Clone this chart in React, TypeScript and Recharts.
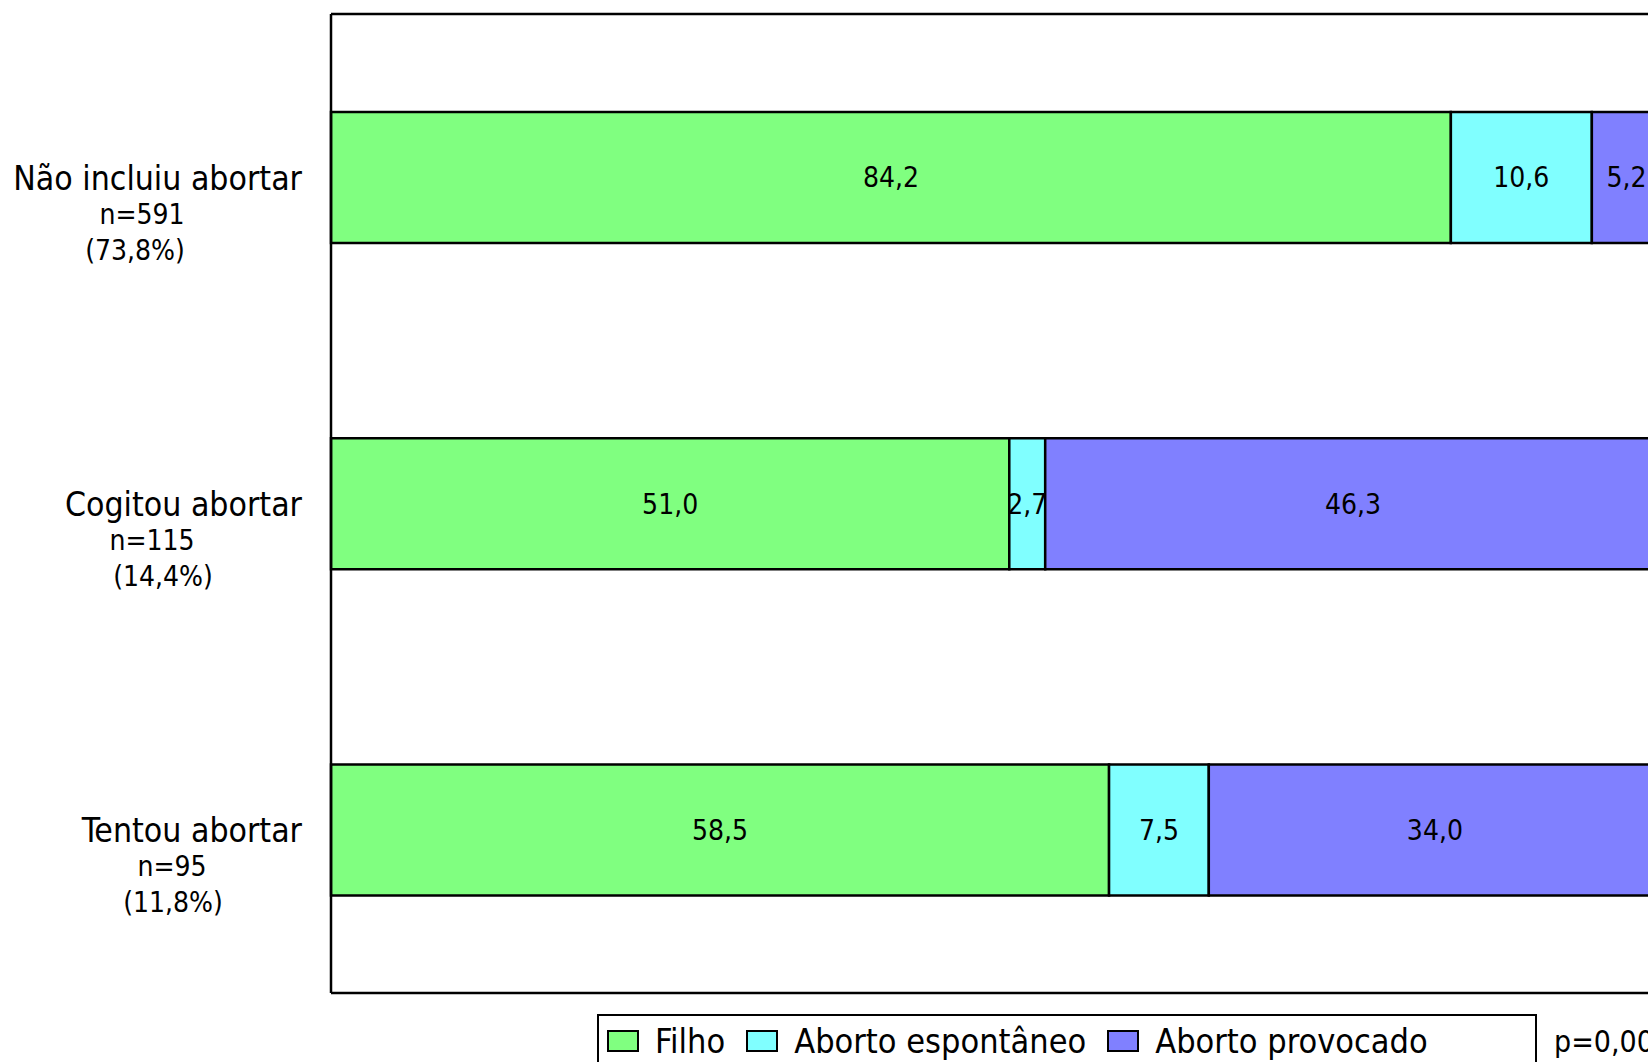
import React from 'react';
import { BarChart, Bar, XAxis, YAxis, Legend, LabelList } from 'recharts';

const categories = ['Não incluiu abortar', 'Cogitou abortar', 'Tentou abortar'];
const sampleSizes = ['n=591', 'n=115', 'n=95'];
const shares = ['(73,8%)', '(14,4%)', '(11,8%)'];
const seriesNames = ['Filho', 'Aborto espontâneo', 'Aborto provocado'];
const filho = [84.2, 51.0, 58.5];
const espontaneo = [10.6, 2.7, 7.5];
const provocado = [5.2, 46.3, 34.0];
const pValue = 'p=0,00';

const data = categories.map((name, i) => ({
  name,
  filho: filho[i],
  espontaneo: espontaneo[i],
  provocado: provocado[i],
}));

const FONT = "'DejaVu Sans Condensed', 'DejaVu Sans', sans-serif";
// x centres of the "n=" and percentage lines under each category
const subLineX = [
  [142, 135],
  [152, 163],
  [172, 173],
];

const fmt = (v: any) => Number(v).toFixed(1).replace('.', ',');

function CategoryTick({ x, y, payload }: any) {
  const i = categories.indexOf(payload.value);
  return (
    <g fontFamily={FONT} fill='#000' style={{ fontStretch: 'condensed' }}>
      <text x={x - 29} y={y + 1} fontSize={33.5} textAnchor='end' dominantBaseline='central'>
        {payload.value}
      </text>
      <text x={subLineX[i][0]} y={y + 37} fontSize={28} textAnchor='middle' dominantBaseline='central'>
        {sampleSizes[i]}
      </text>
      <text x={subLineX[i][1]} y={y + 73} fontSize={28} textAnchor='middle' dominantBaseline='central'>
        {shares[i]}
      </text>
    </g>
  );
}

function LegendBox({ payload }: any) {
  const items = [...(payload || [])].sort(
    (a: any, b: any) => seriesNames.indexOf(a.value) - seriesNames.indexOf(b.value)
  );
  return (
    <div style={{ display: 'flex', fontFamily: FONT, fontStretch: 'condensed', color: '#000' }}>
      <div
        style={{
          width: 940,
          height: 60,
          boxSizing: 'border-box',
          border: '2px solid #000',
          padding: '3px 0 0 8px',
        }}>
        <div style={{ display: 'flex', alignItems: 'center', height: 44 }}>
          {items.map((p: any) => (
            <div key={p.value} style={{ display: 'flex', alignItems: 'center', marginRight: 21 }}>
              <div
                style={{
                  width: 32,
                  height: 22,
                  boxSizing: 'border-box',
                  border: '2px solid #000',
                  background: p.color,
                  marginRight: 16,
                }}
              />
              <span style={{ fontSize: 34, lineHeight: 1 }}>{p.value}</span>
            </div>
          ))}
        </div>
      </div>
      <div style={{ marginLeft: 17, height: 54, display: 'flex', alignItems: 'center', fontSize: 30 }}>
        {pValue}
      </div>
    </div>
  );
}

export default function App() {
  return (
    <div
      style={{
        position: 'absolute',
        left: 0,
        top: 0,
        width: 1648,
        height: 1062,
        overflow: 'hidden',
        background: '#fff',
      }}>
      <BarChart
        width={1700}
        height={1062}
        data={data}
        layout='vertical'
        barCategoryGap='30%'
        margin={{ top: 13, right: 39, bottom: 8, left: 0 }}>
        <XAxis
          type='number'
          domain={[0, 100]}
          height={1}
          tick={false}
          tickLine={false}
          axisLine={{ stroke: '#000', strokeWidth: 2.5 }}
        />
        <XAxis
          xAxisId='top'
          orientation='top'
          type='number'
          domain={[0, 100]}
          height={1}
          tick={false}
          tickLine={false}
          axisLine={{ stroke: '#000', strokeWidth: 2.5 }}
        />
        <YAxis
          type='category'
          dataKey='name'
          width={331}
          tickSize={0}
          tickMargin={0}
          tickLine={false}
          axisLine={{ stroke: '#000', strokeWidth: 2.5 }}
          tick={CategoryTick}
        />
        <Legend
          verticalAlign='bottom'
          content={LegendBox}
          wrapperStyle={{ left: 597, top: 1014, bottom: 'auto', width: 1100 }}
        />
        <Bar dataKey='filho' name={seriesNames[0]} stackId='a' fill='#80FF80' stroke='#000' strokeWidth={2.5} isAnimationActive={false}>
          <LabelList dataKey='filho' position='center' formatter={fmt} fill='#000' fontSize={28} fontFamily={FONT} />
        </Bar>
        <Bar dataKey='espontaneo' name={seriesNames[1]} stackId='a' fill='#80FFFF' stroke='#000' strokeWidth={2.5} isAnimationActive={false}>
          <LabelList dataKey='espontaneo' position='center' formatter={fmt} fill='#000' fontSize={28} fontFamily={FONT} />
        </Bar>
        <Bar dataKey='provocado' name={seriesNames[2]} stackId='a' fill='#8080FF' stroke='#000' strokeWidth={2.5} isAnimationActive={false}>
          <LabelList dataKey='provocado' position='center' formatter={fmt} fill='#000' fontSize={28} fontFamily={FONT} />
        </Bar>
      </BarChart>
    </div>
  );
}
